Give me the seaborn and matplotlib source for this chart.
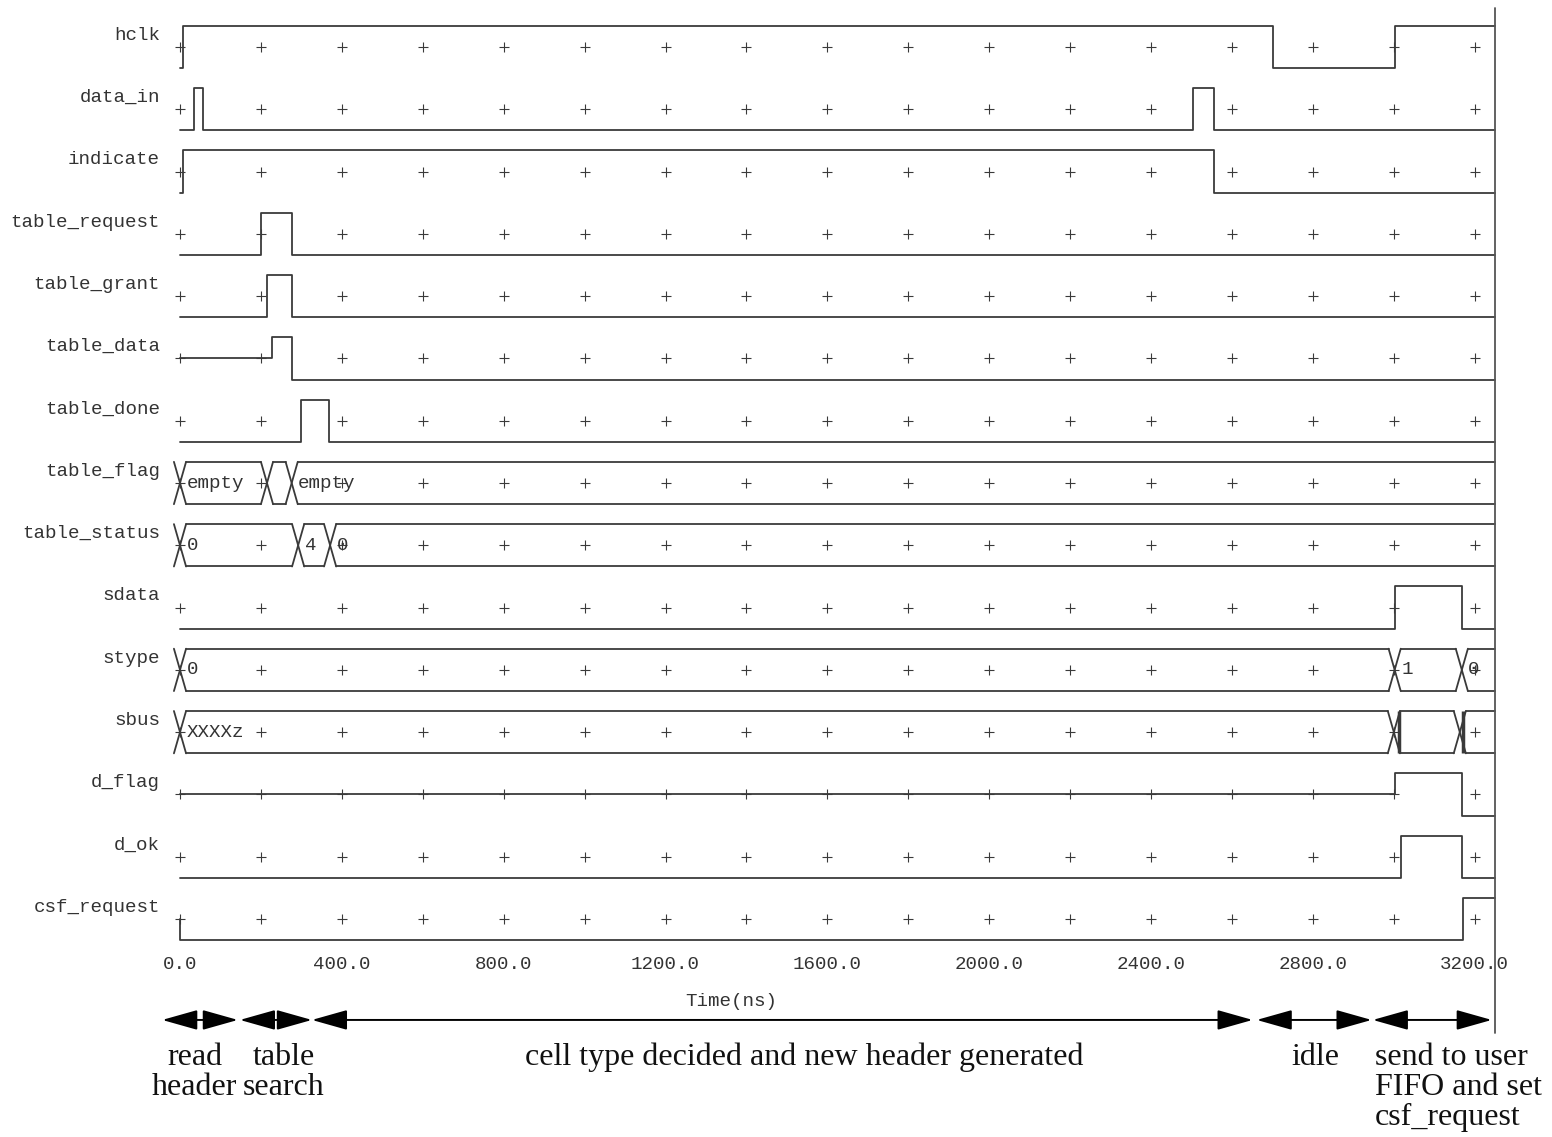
import seaborn as sns
import matplotlib.pyplot as plt

T_END = 3250

signals = ["hclk", "data_in", "indicate", "table_request", "table_grant",
           "table_data", "table_done", "table_flag", "table_status", "sdata",
           "stype", "sbus", "d_flag", "d_ok", "csf_request"]

# digital signals: change times (ns) and levels (1 high, 0 low, 0.5 = z)
hclk_t = [0, 7, 2701, 3002]
hclk_v = [0, 1, 0, 1]
data_in_t = [0, 35, 57, 2503, 2555]
data_in_v = [0, 1, 0, 1, 0]
indicate_t = [0, 7, 2555]
indicate_v = [0, 1, 0]
table_request_t = [0, 200, 276]
table_request_v = [0, 1, 0]
table_grant_t = [0, 215, 276]
table_grant_v = [0, 1, 0]
table_data_t = [0, 228, 276]
table_data_v = [0.5, 1, 0]
table_done_t = [0, 299, 368]
table_done_v = [0, 1, 0]
sdata_t = [0, 3002, 3168]
sdata_v = [0, 1, 0]
d_flag_t = [0, 3002, 3168]
d_flag_v = [0.5, 1, 0]
d_ok_t = [0, 3017, 3168]
d_ok_v = [0, 1, 0]
csf_request_t = [0, 0, 3170]
csf_request_v = [0.5, 0, 1]

# bus signals: transition times and values
table_flag_t = [0, 215, 276]
table_flag_lbl = ["empty", "", "empty"]
table_status_t = [0, 292, 371]
table_status_lbl = ["0", "4", "0"]
stype_t = [0, 3002, 3168]
stype_lbl = ["0", "1", "0"]
sbus_t = [0, 3000, 3163]
sbus_lbl = ["XXXXz", "", ""]
sbus_glitch = [3012, 3170]

# phases under the time axis
phase_start = [-44, 148, 326, 2661, 2948]
phase_end = [143, 326, 2651, 2945, 3242]
phase_text = ["read\nheader", "table\nsearch",
              "cell type decided and new header generated", "idle",
              "send to user\nFIFO and set\ncsf_request"]
phase_text_x = [36, 257, 1544, 2807, 2953]
phase_text_ha = ["center", "center", "center", "center", "left"]

x_ticks = [0, 400, 800, 1200, 1600, 2000, 2400, 2800, 3200]
grid_marks = list(range(0, 3201, 200))

digital = {
    "hclk": (hclk_t, hclk_v), "data_in": (data_in_t, data_in_v),
    "indicate": (indicate_t, indicate_v),
    "table_request": (table_request_t, table_request_v),
    "table_grant": (table_grant_t, table_grant_v),
    "table_data": (table_data_t, table_data_v),
    "table_done": (table_done_t, table_done_v),
    "sdata": (sdata_t, sdata_v), "d_flag": (d_flag_t, d_flag_v),
    "d_ok": (d_ok_t, d_ok_v), "csf_request": (csf_request_t, csf_request_v),
}
buses = {
    "table_flag": (table_flag_t, table_flag_lbl),
    "table_status": (table_status_t, table_status_lbl),
    "stype": (stype_t, stype_lbl),
    "sbus": (sbus_t, sbus_lbl),
}

sns.set_theme(style="white")
MONO = "Liberation Mono"
SERIF = "Liberation Serif"
LC = "#3a3a3a"
LW = 1.3
H = 0.34   # half height of a trace
D = 15     # half width of a bus crossing (ns)
FS = 13.8

fig = plt.figure(figsize=(15.52, 11.37), dpi=100)
ax = fig.add_axes([180 / 1552, 1 - 948 / 1137, 1315 / 1552, 940 / 1137])
ax.set_xlim(0, T_END)
ax.set_ylim(-14.465, 0.626)

for row, name in enumerate(signals):
    yc = -row
    # grid "+" marks
    ax.plot(grid_marks, [yc] * len(grid_marks), ls="", marker="+",
            ms=6.5, mew=0.8, color=LC, clip_on=False)
    if name in digital:
        ts, vs = digital[name]
        xs = list(ts) + [T_END]
        ys = [yc + (v - 0.5) * 2 * H for v in vs]
        ys = ys + [ys[-1]]
        sns.lineplot(x=xs, y=ys, drawstyle="steps-post", estimator=None,
                     sort=False, color=LC, lw=LW, ax=ax, clip_on=False)
    else:
        ts, labels = buses[name]
        hi, lo = yc + H, yc - H
        for t in ts:
            ax.plot([t - D, t + D], [hi, lo], color=LC, lw=LW, clip_on=False)
            ax.plot([t - D, t + D], [lo, hi], color=LC, lw=LW, clip_on=False)
        ends = ts[1:] + [T_END]
        for a, b, lab in zip(ts, ends, labels):
            right = b - D if b < T_END else b
            ax.plot([a + D, right], [hi, hi], color=LC, lw=LW, clip_on=False)
            ax.plot([a + D, right], [lo, lo], color=LC, lw=LW, clip_on=False)
            if lab:
                ax.text(a + 16, yc, lab, ha="left", va="center",
                        fontfamily=MONO, fontsize=FS, color="#333333")
        if name == "sbus":
            ax.vlines(sbus_glitch, lo, hi, color=LC, lw=2.5)

# right boundary line
ax.plot([T_END, T_END], [0.626, -15.83], color="#555555", lw=1.3,
        clip_on=False)

# axes and labels
ax.set_yticks([-r + 0.22 for r in range(len(signals))])
ax.set_yticklabels(signals, fontfamily=MONO, fontsize=FS, color="#333333")
ax.set_xticks(x_ticks)
ax.set_xticklabels([f"{v:.1f}" for v in x_ticks], fontfamily=MONO,
                   fontsize=FS, color="#333333")
ax.tick_params(axis="y", length=0, pad=14.4)
ax.tick_params(axis="x", length=0, pad=6)
for s in ax.spines.values():
    s.set_visible(False)
ax.set_xlabel("Time(ns)", fontfamily=MONO, fontsize=FS, color="#333333")
ax.xaxis.set_label_coords(0.419, -0.0567)
ax.xaxis.label.set_verticalalignment("center")

# phase arrows
y_arrow = -15.62
for a, b in zip(phase_start, phase_end):
    ax.annotate("", xy=(b, y_arrow), xytext=(a, y_arrow),
                xycoords="data", annotation_clip=False,
                arrowprops=dict(arrowstyle="<|-|>,head_length=2.2,head_width=0.62",
                                mutation_scale=10, color="black", lw=1.4,
                                shrinkA=0, shrinkB=0))
for x, txt, ha in zip(phase_text_x, phase_text, phase_text_ha):
    ax.text(x, -15.99, txt, ha=ha, va="top", fontfamily=SERIF, fontsize=23,
            color="#111111", linespacing=1.05, multialignment=ha)

fig.savefig("out.png", dpi=100)
